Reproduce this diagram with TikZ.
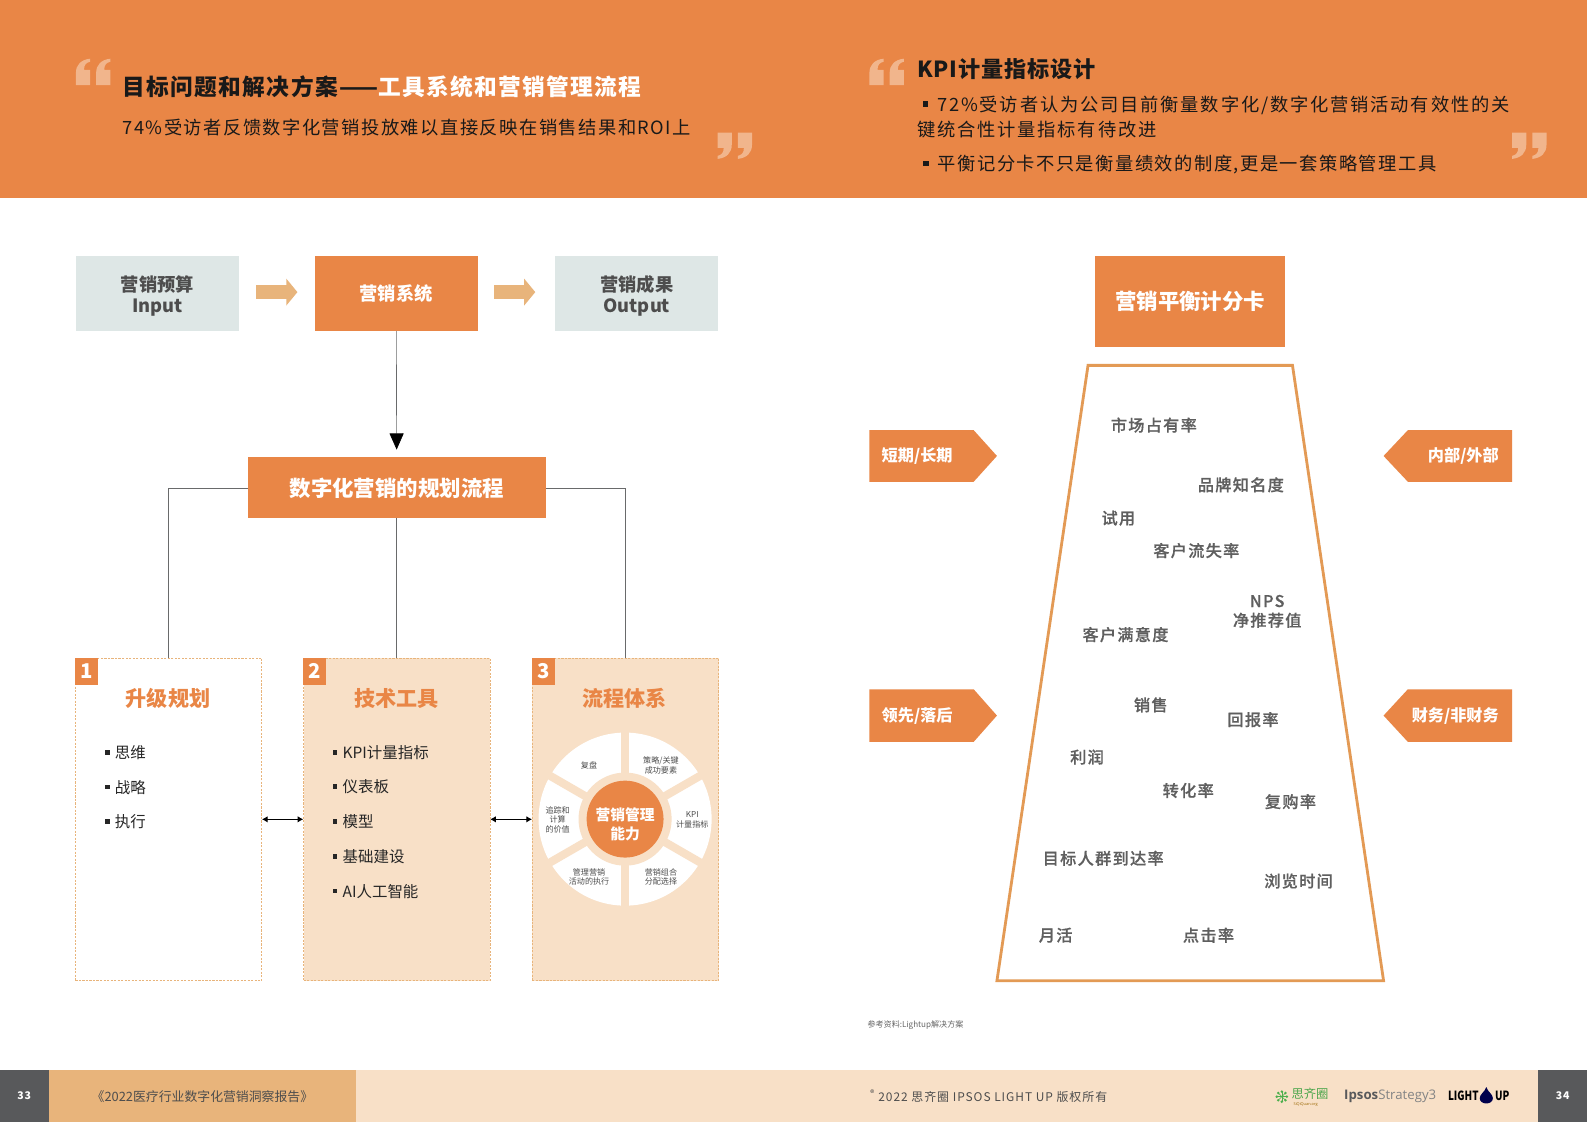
\documentclass[tikz,border=0pt]{standalone}
\usepackage{fontspec}
\usetikzlibrary{arrows.meta}
\setmainfont{Noto Sans CJK SC}
\newfontfamily\widefont[LetterSpace=8]{Noto Sans CJK SC}
\newfontfamily\widerfont[LetterSpace=10]{Noto Sans CJK SC}
\newfontfamily\headfont[LetterSpace=6]{Noto Sans CJK SC}
\newfontfamily\kpifont[LetterSpace=3.8]{Noto Sans CJK SC}
\newfontfamily\metricfont[LetterSpace=8, FakeBold=0.5]{Noto Sans CJK SC Medium}
\newfontfamily\logofont{Open Sans}

\definecolor{mainorange}{HTML}{E98646}
\definecolor{paleorange}{HTML}{F8E0C7}
\definecolor{tanorange}{HTML}{E8B47B}
\definecolor{quotetint}{HTML}{F1B58C}
\definecolor{palegrey}{HTML}{DEE7E6}
\definecolor{darkgrey}{HTML}{58595B}
\definecolor{textgrey}{HTML}{4D4D4D}
\definecolor{trapezline}{HTML}{E39A55}

\newcommand{\fsz}[1]{\fontsize{#1}{#1}\selectfont\setlength{\baselineskip}{1.2\baselineskip}}
\newcommand{\sqbullet}{\rule[0.25em]{0.3em}{0.3em}\hspace{0.5em}}

\tikzset{
  flowbox/.style={minimum width=161*1.44pt, minimum height=74*1.44pt, inner sep=0pt, align=center, font=\fsz{26}\bfseries},
  greybox/.style={flowbox, fill=palegrey, text=textgrey},
  orangebox/.style={flowbox, fill=mainorange, text=white},
  stagebox/.style={minimum width=184*1.44pt, minimum height=319*1.44pt, inner sep=0pt, draw=tanorange, dash pattern=on 3pt off 2pt, line width=0.8pt},
  stagenum/.style={minimum width=22*1.44pt, minimum height=27*1.44pt, inner sep=0pt, fill=mainorange, text=white, font=\fsz{29}\bfseries},
  stagetitle/.style={text=mainorange, font=\fsz{30}\bfseries},
  stageitem/.style={anchor=west, inner sep=0pt, text=black!85, font=\fsz{22}},
  wheeltext/.style={align=center, inner sep=0pt, text=textgrey, font=\fsz{11.5}, text depth=0pt},
  metric/.style={align=center, inner sep=0pt, text=textgrey!90!white, font=\fsz{23}\metricfont},
  tagtext/.style={inner sep=0pt, text=white, font=\fsz{23}\bfseries},
  blockarrow/.style={draw=tanorange, line width=13.8*1.44pt, -{Triangle[length=11*1.44pt, width=26*1.44pt]}},
  thinline/.style={draw=darkgrey!90!white, line width=0.9pt},
  twoway/.style={draw=black, line width=1.4pt, {Latex[length=8pt, width=9pt]}-{Latex[length=8pt, width=9pt]}},
  quotemarks/.pic={
    \fill[quotetint] (0,26) -- (14,26) -- (14,11) -- (8,11) .. controls (8,6) and (10,4) .. (14,3) -- (14,0) .. controls (5,1) and (0,6) .. (0,14) -- cycle;
    \fill[quotetint] (20,26) -- (34,26) -- (34,11) -- (28,11) .. controls (28,6) and (30,4) .. (34,3) -- (34,0) .. controls (25,1) and (20,6) .. (20,14) -- cycle;
  },
}

\begin{document}
\begin{tikzpicture}[x=1.44pt, y=-1.44pt]
  \useasboundingbox (0,0) rectangle (1568,1109);
  \fill[white] (0,0) rectangle (1568,1109);

  % header band
  \fill[mainorange] (0,0) rectangle (1568,196);
  \pic at (75,58) {quotemarks};
  \pic at (859,58) {quotemarks};
  \pic[rotate=180] at (743,157) {quotemarks};
  \pic[rotate=180] at (1528,157) {quotemarks};

  \node[anchor=west, inner sep=0pt, font=\fsz{32.3}\headfont\bfseries] (headleft) at (121,86)
    {\textcolor{black!90}{目标问题和解决方案——}\textcolor{white}{工具系统和营销管理流程}};
  \node[anchor=west, inner sep=0pt, text=black!90, font=\fsz{26}\widefont] (subleft) at (121,126)
    {74\%受访者反馈数字化营销投放难以直接反映在销售结果和ROI上};
  \node[anchor=west, inner sep=0pt, text=black!90, font=\fsz{31.5}\kpifont\bfseries] (headright) at (906,68) {KPI计量指标设计};
  \node[anchor=north west, inner sep=0pt, align=left, text=black!90, font=\fsz{26}\widerfont] (subright) at (906,94.5)
    {\hspace{0.3em}\sqbullet 72\%受访者认为公司目前衡量数字化/数字化营销活动有效性的关\\[5pt]键统合性计量指标有待改进};
  \node[anchor=west, inner sep=0pt, text=black!90, font=\fsz{26}\widefont] (subthird) at (912,163)
    {\sqbullet 平衡记分卡不只是衡量绩效的制度,更是一套策略管理工具};

  % top row
  \node[greybox] (input) at (155.5,290) {\rule{0pt}{30pt}营销预算\\[-0.5pt]Input};
  \node[orangebox] (system) at (391.5,290) {营销系统};
  \node[greybox] (output) at (628.5,290) {\rule{0pt}{30pt}\hspace{2pt}营销成果\\[-0.5pt]\hspace{2pt}Output};
  \draw[blockarrow] ([xshift=17*1.44pt, yshift=2pt]input.east) -- ([xshift=-17*1.44pt, yshift=2pt]system.west);
  \draw[blockarrow] ([xshift=16*1.44pt, yshift=2pt]system.east) -- ([xshift=-19*1.44pt, yshift=2pt]output.west);

  \node[minimum width=294*1.44pt, minimum height=60*1.44pt, inner sep=0pt, fill=mainorange, text=white, font=\fsz{30.5}\bfseries] (flow) at (392,482) {数字化营销的规划流程};
  \draw[thinline, -{Triangle[length=23pt, width=20pt, color=black]}, shorten >=11pt] (system) -- (flow);

  % three stages
  \node[stagebox] (stageone) at (166.5,809.5) {};
  \node[stagebox, fill=paleorange] (stagetwo) at (392,809.5) {};
  \node[stagebox, fill=paleorange] (stagethree) at (618,809.5) {};

  \draw[thinline] (flow.west) -| (stageone.north);
  \draw[thinline] (flow) -- (stagetwo);
  \draw[thinline] (flow.east) -| (stagethree.north);

  \draw[twoway] (stageone.east) -- (stagetwo.west);
  \draw[twoway] (stagetwo.east) -- (stagethree.west);

  \foreach \name/\nr in {stageone/1, stagetwo/2, stagethree/3} {
    \node[stagenum, anchor=north west] (num\name) at (\name.north west) {\nr};
  }
  \node[stagetitle] (titleone) at (166,690) {升级规划};
  \node[stagetitle] (titletwo) at (392,690) {技术工具};
  \node[stagetitle] (titlethree) at (617,690) {流程体系};

  \foreach \y/\item in {743.7/思维, 777.7/战略, 811.7/执行} {
    \node[stageitem] at (103.5,\y) {\rule[0.25em]{0.3em}{0.3em}\hspace{0.35em}\item};
  }
  \foreach \y/\item in {743.7/KPI计量指标, 777.7/仪表板, 811.7/模型, 846.7/基础建设, 880.7/AI人工智能} {
    \node[stageitem] at (328.5,\y) {\rule[0.25em]{0.3em}{0.3em}\hspace{0.35em}\item};
  }

  % wheel
  \def\wheelx{617.6}
  \def\wheely{809.3}
  \fill[white] (\wheelx,\wheely) circle (85.5*1.44pt);
  \foreach \ang in {30, 90, 150, 210, 270, 330} {
    \draw[draw=paleorange, line width=8*1.44pt] (\wheelx,\wheely) -- +(\ang:88*1.44pt);
  }
  \fill[paleorange] (\wheelx,\wheely) circle (46*1.44pt);
  \node[circle, minimum size=76*1.44pt, inner sep=0pt, fill=mainorange] (wheelcore) at (\wheelx,\wheely) {};
  \node[inner sep=0pt, text=white, align=center, font=\fsz{21}\bfseries] (wheelword) at (\wheelx,814.5) {营销管理\\[2pt]能力};
  \node[wheeltext] (wheela) at (582,756) {复盘};
  \node[wheeltext] (wheelb) at (653,756) {策略/关键\\成功要素};
  \node[wheeltext] (wheelc) at (684,810) {KPI\\计量指标};
  \node[wheeltext] (wheeld) at (653,866) {营销组合\\分配选择};
  \node[wheeltext] (wheele) at (582,866) {管理营销\\活动的执行};
  \node[wheeltext] (wheelf) at (551,809.5) {追踪和\\计算\\的价值};

  % scorecard
  \node[orangebox, minimum width=188*1.44pt, minimum height=90*1.44pt, font=\fsz{30.5}\bfseries] (card) at (1176,298) {营销平衡计分卡};
  \draw[draw=trapezline, line width=4pt, fill=white] (1075,361) -- (1277,361) -- (1367,969) -- (985,969) -- cycle;

  \foreach \x/\y/\word in {
    1140/420/市场占有率, 1226/479/品牌知名度, 1105/512/试用, 1182/544/客户流失率,
    1112/627/客户满意度, 1137/696.5/销售, 1238/711/回报率, 1074/748/利润,
    1174/781/转化率, 1275/792/复购率, 1090/848/目标人群到达率, 1283/870.5/浏览时间,
    1043/924/月活, 1194/924/点击率} {
    \node[metric] at (\x,\y) {\word};
  }
  \node[metric] (metricnps) at (1252,604) {NPS\\净推荐值};

  % side tags
  \fill[mainorange] (859,425) -- (962,425) -- (985,450.5) -- (962,476) -- (859,476) -- cycle;
  \fill[mainorange] (859,681) -- (962,681) -- (985,707) -- (962,733) -- (859,733) -- cycle;
  \fill[mainorange] (1494,425) -- (1391,425) -- (1367,450.5) -- (1391,476) -- (1494,476) -- cycle;
  \fill[mainorange] (1494,681) -- (1391,681) -- (1367,707) -- (1391,733) -- (1494,733) -- cycle;
  \node[tagtext, anchor=west] (tagterm) at (871,450.5) {短期/长期};
  \node[tagtext, anchor=west] (taglead) at (871,707) {领先/落后};
  \node[tagtext, anchor=east] (tagside) at (1481,450.5) {内部/外部};
  \node[tagtext, anchor=east] (tagmoney) at (1481,707) {财务/非财务};

  \node[anchor=west, inner sep=0pt, text=black!60, font=\fsz{11.5}] (source) at (857,1013) {参考资料:Lightup解决方案};

  % footer
  \fill[paleorange] (0,1057) rectangle (1568,1109);
  \fill[tanorange] (48,1057) rectangle (352,1109);
  \fill[darkgrey] (0,1057) rectangle (48,1109);
  \fill[darkgrey] (1520,1057) rectangle (1568,1109);
  \node[text=white, font=\fsz{15}\widefont\bfseries] (pageleft) at (24,1083) {33};
  \node[text=white, font=\fsz{15}\widefont\bfseries] (pageright) at (1544,1083) {34};
  \node[text=textgrey, font=\fsz{18.3}] (report) at (200,1083) {《2022医疗行业数字化营销洞察报告》};
  \node[text=textgrey, font=\fsz{17}\widefont] (rights) at (977,1083) {\textsuperscript{®} 2022 思齐圈 IPSOS LIGHT UP 版权所有};

  % logos
  \foreach \ang in {0, 45, ..., 315} {
    \fill[green!55!black!70] (1266.5,1083.5) ++(\ang:5*1.44pt) circle (1.4*1.44pt);
    \draw[green!55!black!70, line width=0.7pt] (1266.5,1083.5) -- ++(\ang:5*1.44pt);
  }
  \node[anchor=west, inner sep=0pt, text=green!50!black!70, font=\fsz{17.5}] (logosiqi) at (1276,1080.5) {思齐圈};
  \node[anchor=west, inner sep=0pt, text=red!60!green, font=\fsz{5.5}\logofont] (logosite) at (1278,1091) {SiQiQuan.org};
  \node[anchor=west, inner sep=0pt, text=darkgrey, font=\fsz{18.8}\logofont] (logoipsos) at (1328,1083) {\textbf{Ipsos}\textcolor{darkgrey!75!white}{Strategy3}};
  \node[anchor=east, inner sep=0pt, text=black, font=\fsz{18}\bfseries] (logolight) at (1461,1083) {\scalebox{0.78}[1]{LIGHT}};
  \fill[blue!30!black] (1468.5,1074) .. controls (1470,1079) and (1475,1081) .. (1475,1085) .. controls (1475,1092) and (1462,1092) .. (1462,1085) .. controls (1462,1081) and (1467,1079) .. (1468.5,1074) -- cycle;
  \node[anchor=west, inner sep=0pt, text=black, font=\fsz{18}\bfseries] (logoup) at (1477,1083) {\scalebox{0.78}[1]{UP}};
\end{tikzpicture}
\end{document}
